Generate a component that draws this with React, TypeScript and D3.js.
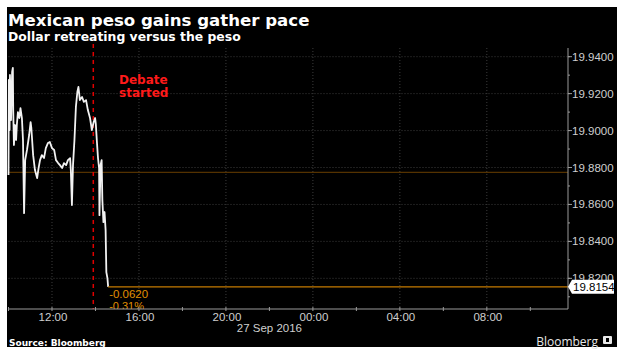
import React from "react";
import * as d3 from "d3";

const TITLE = "Mexican peso gains gather pace";
const SUBTITLE = "Dollar retreating versus the peso";
const SOURCE = "Source: Bloomberg";

// 26 Sep 2016 intraday, USD/MXN
const times = [
  "10:00","10:01","10:03","10:04","10:07","10:10","10:12","10:13","10:15","10:18",
  "10:21","10:23","10:26","10:30","10:33","10:37","10:40","10:43","10:46","10:51",
  "10:57","11:01","11:03","11:08","11:13","11:19","11:23","11:27","11:32","11:38",
  "11:43","11:49","11:54","12:00","12:06","12:11","12:17","12:22","12:28","12:33",
  "12:39","12:44","12:50","12:52","12:55","12:58","13:02","13:06","13:10","13:13",
  "13:17","13:23","13:28","13:34","13:39","13:45","13:48","13:50","13:55","13:59",
  "14:01","14:04","14:07","14:10","14:11","14:14","14:17","14:19","14:22","14:25",
  "14:28","14:30","14:33","14:35"
];
const values = [
  19.8759,19.9274,19.9003,19.9301,19.9057,19.9317,19.9339,19.9111,19.8922,19.9030,
  19.8949,19.9030,19.9100,19.9068,19.9122,19.9068,19.8949,19.8553,19.8840,19.8895,
  19.8976,19.9046,19.9014,19.8867,19.8786,19.8743,19.8797,19.8840,19.8867,19.8851,
  19.8905,19.8933,19.8938,19.8905,19.8895,19.8840,19.8824,19.8813,19.8797,19.8824,
  19.8813,19.8840,19.8851,19.8786,19.8597,19.8813,19.8949,19.9128,19.9209,19.9236,
  19.9165,19.9182,19.9155,19.9165,19.9111,19.9068,19.9030,19.9003,19.9046,19.9068,
  19.9035,19.8938,19.8851,19.8797,19.8542,19.8813,19.8840,19.8624,19.8504,19.8559,
  19.8461,19.8234,19.8201,19.8154
];

const yTicks = [19.94, 19.92, 19.90, 19.88, 19.86, 19.84, 19.82];
const xTickLabels = ["12:00", "16:00", "20:00", "00:00", "04:00", "08:00"];
const lastValue = 19.8154;
const prevClose = 19.8774;
const change = "-0.0620";
const changePct = "-0.31%";
const debateTime = "13:54";
const dateLabel = "27 Sep 2016";

const parseDay1 = (s: string) => new Date(`2016-09-26T${s}:00`);

export default function App() {
  const W = 623, H = 358;
  const left = 8.5, right = 568, top = 48, bottom = 309;

  const x = d3.scaleTime()
    .domain([new Date("2016-09-26T10:00:00"), new Date("2016-09-27T11:44:00")])
    .range([left, right]);
  const y = d3.scaleLinear().domain([19.8034, 19.9447]).range([bottom, top]);

  const pts = times.map((t, i) => [x(parseDay1(t)), y(values[i])] as [number, number]);
  const line = d3.line<[number, number]>()(pts) || "";

  const twoHourTicks = x.ticks(d3.timeHour.every(2)!);
  const labelTicks = xTickLabels.map((lab) => {
    const h = +lab.slice(0, 2);
    const day = h >= 10 ? "2016-09-26" : "2016-09-27";
    return { lab, d: new Date(`${day}T${lab}:00`) };
  });
  const minorY = d3.range(19.81, 19.945, 0.01);
  const dateX = x(new Date("2016-09-26T22:00:00"));
  const debX = x(parseDay1(debateTime));
  const endX = pts[pts.length - 1][0];
  const yLast = y(lastValue);

  const tickFont = "'Liberation Sans', Arial, sans-serif";
  const boldFont = "'DejaVu Sans', Verdana, sans-serif";

  return (
    <svg width={W} height={H} style={{ position: "absolute", left: 0, top: 0, background: "#fff" }}>
      <rect x={7} y={7} width={610} height={340} fill="#000" />
      <text x={8} y={26} fill="#fff" fontFamily={boldFont} fontWeight="bold" fontSize={16.6}>{TITLE}</text>
      <text x={8} y={41} fill="#fff" fontFamily={boldFont} fontWeight="bold" fontSize={12.4}>{SUBTITLE}</text>

      {/* gridlines */}
      {yTicks.map((v) => (
        <line key={"gy" + v} x1={left} x2={right} y1={y(v)} y2={y(v)} stroke="#3c3c3c" strokeDasharray="1,2" />
      ))}
      {labelTicks.map((t) => (
        <line key={"gx" + t.lab} x1={x(t.d)} x2={x(t.d)} y1={top} y2={bottom} stroke="#3c3c3c" strokeDasharray="1,2" />
      ))}

      {/* previous close reference */}
      <line x1={left} x2={right} y1={y(prevClose)} y2={y(prevClose)} stroke="#a86400" strokeWidth={1.2} strokeDasharray="1,1" />

      {/* debate marker */}
      <line x1={debX} x2={debX} y1={top - 4} y2={bottom} stroke="#e00000" strokeWidth={1.5} strokeDasharray="4,4" />
      <text x={119} y={84} fill="#ff1a1a" fontFamily={boldFont} fontWeight="bold" fontSize={12}>Debate</text>
      <text x={119} y={97} fill="#ff1a1a" fontFamily={boldFont} fontWeight="bold" fontSize={12}>started</text>

      {/* price line */}
      <path d={line} fill="none" stroke="#f2f2f2" strokeWidth={1.8} strokeLinejoin="round" />
      <line x1={endX} x2={right} y1={yLast} y2={yLast} stroke="#c47a00" strokeWidth={1.2} />
      <clipPath id="clipPlot"><rect x={left} y={top} width={right - left} height={bottom - top} /></clipPath>
      <g clipPath="url(#clipPlot)">
        <text x={endX + 1} y={yLast + 11.5} fill="#e08f00" fontFamily={tickFont} fontSize={11.5}>{change}</text>
        <text x={endX + 1} y={yLast + 23} fill="#e08f00" fontFamily={tickFont} fontSize={11}>{changePct}</text>
      </g>

      {/* x axis */}
      <line x1={left} x2={right} y1={bottom} y2={bottom} stroke="#9a9a9a" />
      {twoHourTicks.map((d) => (
        <line key={"xt" + +d} x1={x(d)} x2={x(d)} y1={bottom - 2} y2={bottom + 2} stroke="#9a9a9a" />
      ))}
      {labelTicks.map((t) => (
        <text key={"xl" + t.lab} x={x(t.d) + 1} y={321} textAnchor="middle" fill="#cfcfcf" fontFamily={tickFont} fontSize={11.5}>{t.lab}</text>
      ))}
      <text x={dateX} y={332} textAnchor="middle" fill="#cfcfcf" fontFamily={tickFont} fontSize={11.5}>{dateLabel}</text>

      {/* y axis */}
      <line x1={right} x2={right} y1={top} y2={bottom} stroke="#9a9a9a" />
      {minorY.map((v) => (
        <line key={"my" + v} x1={right} x2={right + 2} y1={y(v)} y2={y(v)} stroke="#9a9a9a" />
      ))}
      {yTicks.map((v) => (
        <g key={"yt" + v}>
          <line x1={right} x2={right + 4} y1={y(v)} y2={y(v)} stroke="#9a9a9a" />
          <text x={572} y={y(v) + 4} fill="#cfcfcf" fontFamily={tickFont} fontSize={11.5}>{d3.format(".4f")(v)}</text>
        </g>
      ))}
      <path
        d={`M${right},${yLast} L${right + 4},${yLast - 7} H${614} V${yLast + 7} H${right + 4} Z`}
        fill="#fff"
      />
      <text x={573} y={yLast + 4} fill="#000" fontFamily={tickFont} fontSize={11.5}>{d3.format(".4f")(lastValue)}</text>

      {/* footer */}
      <text x={9} y={346} fill="#fff" fontFamily={boldFont} fontWeight="bold" fontSize={9}>{SOURCE}</text>
      <text x={598} y={346} textAnchor="end" fill="#e8e8e8" fontFamily="'Open Sans', sans-serif" fontSize={12}>Bloomberg</text>
      <rect x={603} y={336} width={9} height={8} fill="#e8e8e8" rx={1} />
      <rect x={606} y={338} width={3} height={4} fill="#000" />
    </svg>
  );
}
